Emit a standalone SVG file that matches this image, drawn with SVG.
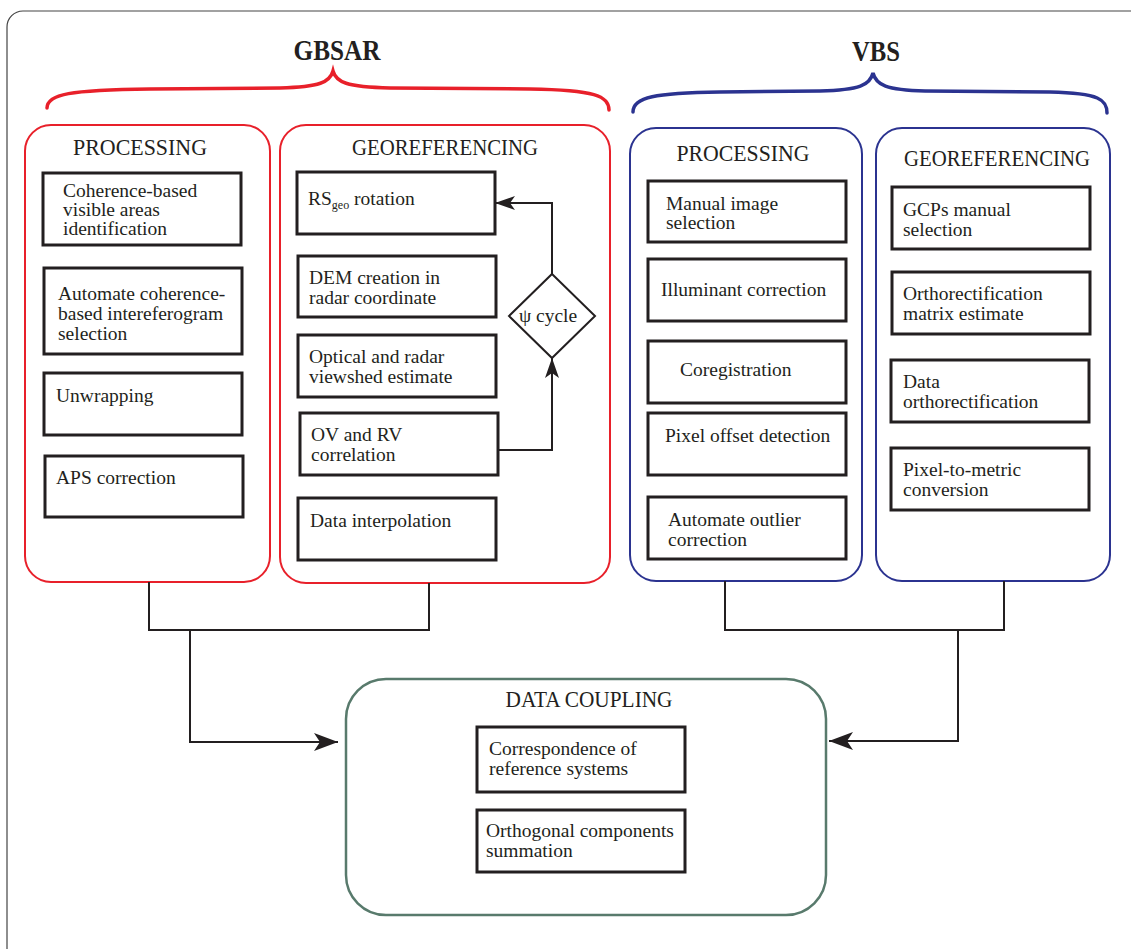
<svg xmlns="http://www.w3.org/2000/svg" width="1131" height="949" viewBox="0 0 1131 949">
<defs>
<style>
.t{font-family:"Liberation Serif","Times New Roman",serif;font-size:19.5px;fill:#231f20}
.h{font-family:"Liberation Serif","Times New Roman",serif;font-size:23px;fill:#231f20}
.title{font-family:"Liberation Serif","Times New Roman",serif;font-size:30px;font-weight:bold;fill:#231f20}
.box{fill:#fff;stroke:#231f20;stroke-width:3}
.red{fill:none;stroke:#e8202a;stroke-width:2}
.blue{fill:none;stroke:#2b3390;stroke-width:2}
.green{fill:none;stroke:#587a6c;stroke-width:2.5}
.con{fill:none;stroke:#231f20;stroke-width:2}
.brr{fill:none;stroke:#e8202a;stroke-width:3.5;stroke-linecap:round}
.brb{fill:none;stroke:#2b3390;stroke-width:3.5;stroke-linecap:round}
</style>
<marker id="arr" viewBox="0 0 20 14" refX="20" refY="7" markerWidth="20" markerHeight="14" markerUnits="userSpaceOnUse" orient="auto">
<path d="M0,0 L20,7 L0,14 L5,7 Z" fill="#231f20"/>
</marker>
<marker id="arrL" viewBox="0 0 24 18" refX="24" refY="9" markerWidth="24" markerHeight="18" markerUnits="userSpaceOnUse" orient="auto">
<path d="M0,0 L24,9 L0,18 L6,9 Z" fill="#231f20"/>
</marker>
</defs>
<rect x="7" y="11" width="1140" height="960" rx="16" fill="#fff" stroke="#444" stroke-width="1.2"/>

<g id="gbsar-title">
<text class="title" x="337" y="60" text-anchor="middle" textLength="87" lengthAdjust="spacingAndGlyphs">GBSAR</text>
<path class="brr" d="M47,108 C47,94 70,90 150,89 L280,88 C320,87 330,82 333,71 C336,82 346,87 390,88 L530,89 C595,90 609,96 609,110"/>
</g>
<g id="vbs-title">
<text class="title" x="876" y="61" text-anchor="middle" textLength="48" lengthAdjust="spacingAndGlyphs">VBS</text>
<path class="brb" d="M633,112 C633,97 655,93 720,92 L820,91 C860,90 870,85 873,73 C876,85 886,90 925,91 L1050,92 C1100,93 1107,100 1107,113"/>
</g>

<g id="gbsar-processing">
<rect class="red" x="25" y="125" width="245" height="457" rx="26"/>
<text class="h" x="140" y="155" text-anchor="middle" textLength="134" lengthAdjust="spacingAndGlyphs">PROCESSING</text>
</g>
<g id="gbsar-georef">
<rect class="red" x="280" y="125" width="330" height="458" rx="26"/>
<text class="h" x="445" y="155" text-anchor="middle" textLength="186" lengthAdjust="spacingAndGlyphs">GEOREFERENCING</text>
</g>
<g id="vbs-processing">
<rect class="blue" x="630" y="128" width="232" height="453" rx="26"/>
<text class="h" x="743" y="161" text-anchor="middle" textLength="133" lengthAdjust="spacingAndGlyphs">PROCESSING</text>
</g>
<g id="vbs-georef">
<rect class="blue" x="876" y="128" width="234" height="453" rx="26"/>
<text class="h" x="997" y="166" text-anchor="middle" textLength="186" lengthAdjust="spacingAndGlyphs">GEOREFERENCING</text>
</g>

<g id="coherence-visible">
<rect class="box" x="43" y="173" width="198" height="72"/>
<text class="t" x="63" y="197">Coherence-based</text>
<text class="t" x="63" y="216">visible areas</text>
<text class="t" x="63" y="235">identification</text>
</g>
<g id="automate-coherence">
<rect class="box" x="44" y="268" width="198" height="86"/>
<text class="t" x="58" y="300">Automate coherence-</text>
<text class="t" x="58" y="320">based intereferogram</text>
<text class="t" x="58" y="340">selection</text>
</g>
<g id="unwrapping">
<rect class="box" x="44" y="373" width="198" height="62"/>
<text class="t" x="56" y="402">Unwrapping</text>
</g>
<g id="aps">
<rect class="box" x="45" y="456" width="198" height="61"/>
<text class="t" x="56" y="484">APS correction</text>
</g>

<g id="rs-rotation">
<rect class="box" x="297" y="172" width="198" height="62"/>
<text class="t" x="308" y="205">RS<tspan font-size="12" dy="4">geo</tspan><tspan dy="-4"> rotation</tspan></text>
</g>
<g id="dem">
<rect class="box" x="298" y="256" width="198" height="61"/>
<text class="t" x="309" y="284">DEM creation in</text>
<text class="t" x="309" y="304">radar coordinate</text>
</g>
<g id="viewshed">
<rect class="box" x="298" y="335" width="198" height="62"/>
<text class="t" x="309" y="363">Optical and radar</text>
<text class="t" x="309" y="383">viewshed estimate</text>
</g>
<g id="ov-rv">
<rect class="box" x="300" y="413" width="198" height="62"/>
<text class="t" x="311" y="441">OV and RV</text>
<text class="t" x="311" y="461">correlation</text>
</g>
<g id="interp">
<rect class="box" x="298" y="498" width="198" height="62"/>
<text class="t" x="310" y="527">Data interpolation</text>
</g>
<g id="psi-cycle">
<polygon points="552,274 595,316 552,358 509,316" fill="#fff" stroke="#231f20" stroke-width="2"/>
<text class="t" x="548" y="322" text-anchor="middle" font-size="17">ψ cycle</text>
</g>

<g id="manual-image">
<rect class="box" x="648" y="181" width="198" height="61"/>
<text class="t" x="666" y="210">Manual image</text>
<text class="t" x="666" y="229">selection</text>
</g>
<g id="illuminant">
<rect class="box" x="648" y="259" width="198" height="62"/>
<text class="t" x="661" y="296">Illuminant correction</text>
</g>
<g id="coregistration">
<rect class="box" x="648" y="341" width="198" height="62"/>
<text class="t" x="680" y="376">Coregistration</text>
</g>
<g id="pixel-offset">
<rect class="box" x="648" y="413" width="198" height="62"/>
<text class="t" x="665" y="442">Pixel offset detection</text>
</g>
<g id="outlier">
<rect class="box" x="648" y="497" width="198" height="62"/>
<text class="t" x="668" y="526">Automate outlier</text>
<text class="t" x="668" y="546">correction</text>
</g>

<g id="gcps">
<rect class="box" x="892" y="187" width="198" height="62"/>
<text class="t" x="903" y="216">GCPs manual</text>
<text class="t" x="903" y="236">selection</text>
</g>
<g id="ortho-matrix">
<rect class="box" x="892" y="272" width="198" height="62"/>
<text class="t" x="903" y="300">Orthorectification</text>
<text class="t" x="903" y="320">matrix estimate</text>
</g>
<g id="data-ortho">
<rect class="box" x="891" y="360" width="198" height="62"/>
<text class="t" x="903" y="388">Data</text>
<text class="t" x="903" y="408">orthorectification</text>
</g>
<g id="pixel-metric">
<rect class="box" x="891" y="448" width="198" height="62"/>
<text class="t" x="903" y="476">Pixel-to-metric</text>
<text class="t" x="903" y="496">conversion</text>
</g>

<g id="data-coupling">
<rect class="green" x="346" y="679" width="480" height="236" rx="40"/>
<text class="h" x="589" y="707" text-anchor="middle" textLength="167" lengthAdjust="spacingAndGlyphs">DATA COUPLING</text>
</g>
<g id="correspondence">
<rect class="box" x="477" y="727" width="208" height="65" stroke-width="2.5"/>
<text class="t" x="489" y="755">Correspondence of</text>
<text class="t" x="489" y="775">reference systems</text>
</g>
<g id="orthogonal">
<rect class="box" x="477" y="810" width="208" height="62" stroke-width="2.5"/>
<text class="t" x="486" y="837">Orthogonal components</text>
<text class="t" x="486" y="857">summation</text>
</g>

<g id="connectors">
<polyline class="con" points="498,450 552,450 552,358" marker-end="url(#arr)"/>
<polyline class="con" points="552,274 552,203 495,203" marker-end="url(#arr)"/>
<polyline class="con" points="149,582 149,630 429,630 429,583"/>
<polyline class="con" points="190,630 190,742 338,742" marker-end="url(#arrL)"/>
<polyline class="con" points="725,581 725,630 1004,630 1004,581"/>
<polyline class="con" points="958,630 958,741 829,741" marker-end="url(#arrL)"/>
</g>
</svg>
